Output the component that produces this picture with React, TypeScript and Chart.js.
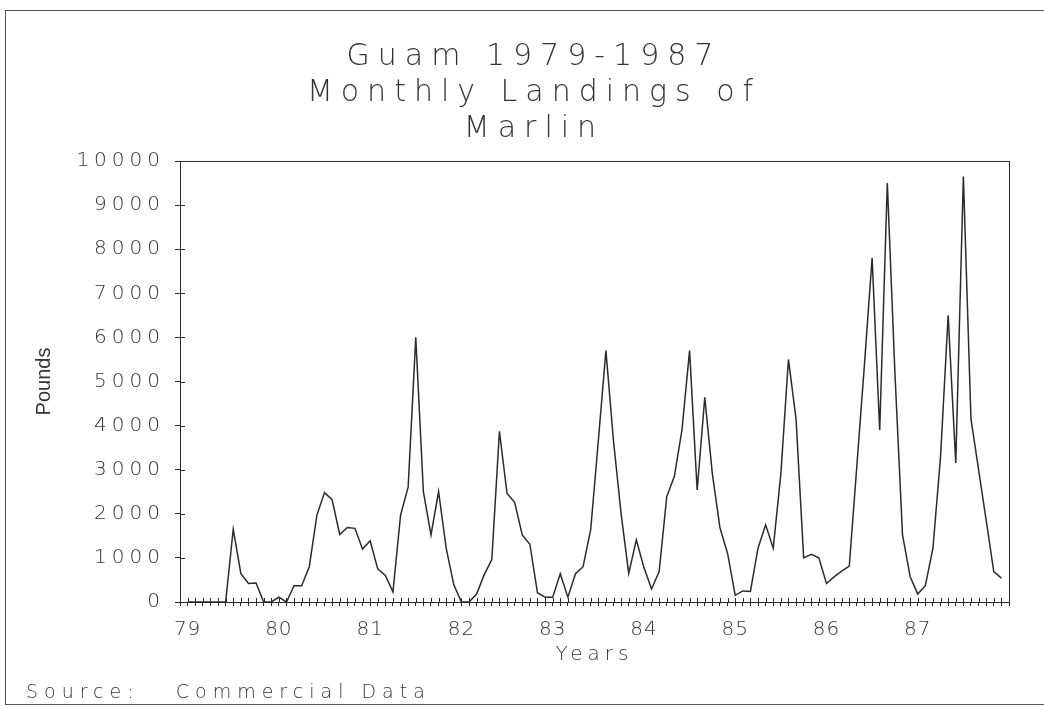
import React, { useEffect, useRef } from 'react';
import { Chart, registerables, LinearScale } from 'chart.js';

// ---- Data (pounds landed per month, Jan 1979 .. Dec 1987) ----
const yearLabels = ['79', '80', '81', '82', '83', '84', '85', '86', '87'];
const pounds1979 = [0, 0, 0, 0, 0, 0, 1650, 650, 420, 430, 0, 0];
const pounds1980 = [110, 0, 370, 370, 800, 1970, 2480, 2320, 1530, 1690, 1670, 1200];
const pounds1981 = [1390, 750, 600, 230, 1970, 2610, 6000, 2500, 1520, 2500, 1220, 390];
const pounds1982 = [0, 0, 180, 620, 960, 3870, 2460, 2260, 1520, 1310, 210, 105];
const pounds1983 = [105, 640, 110, 640, 800, 1640, 3650, 5700, 3650, 2000, 650, 1410];
const pounds1984 = [780, 295, 690, 2390, 2850, 3900, 5700, 2540, 4640, 2900, 1680, 1100];
const pounds1985 = [150, 250, 240, 1220, 1750, 1220, 2900, 5500, 4150, 1000, 1080, 1000];
const pounds1986 = [420, 570, 700, 815, 3100, 5400, 7800, 3900, 9500, 5200, 1520, 580];
const pounds1987 = [180, 370, 1220, 3300, 6500, 3150, 9650, 4150, 3000, 1850, 690, 540];
const monthlyPounds = [
  ...pounds1979, ...pounds1980, ...pounds1981, ...pounds1982, ...pounds1983,
  ...pounds1984, ...pounds1985, ...pounds1986, ...pounds1987,
];
const titleLines = ['Guam 1979-1987', 'Monthly Landings of', 'Marlin'];
const sourceText = 'Source:   Commercial Data';

const INK = '#2b2b2b';
const TEXT = '#333333';
const LABEL_SPACING: Record<string, string> = { x: '1px', y: '5px' };
const TITLE_SPACING: Record<string, string> = { x: '5px', y: '0px' };

class SpacedLinearScale extends LinearScale {
  static id = 'spacedLinear';
  static defaults = LinearScale.defaults;
  drawLabels(chartArea: any) {
    const ctx: any = this.ctx;
    ctx.save();
    ctx.letterSpacing = LABEL_SPACING[this.id] || '0px';
    super.drawLabels(chartArea);
    ctx.restore();
  }
  drawTitle() {
    const ctx: any = this.ctx;
    ctx.save();
    ctx.letterSpacing = TITLE_SPACING[this.id] || '0px';
    // @ts-ignore
    super.drawTitle();
    ctx.restore();
  }
}

Chart.register(...registerables, SpacedLinearScale as any);

const frameAndTicks = {
  id: 'frameAndTicks',
  afterDraw(chart: any) {
    const { ctx, chartArea: a, scales } = chart;
    ctx.save();
    ctx.strokeStyle = INK;
    ctx.lineWidth = 1;
    ctx.strokeRect(a.left + 0.5, a.top + 0.5, a.right - a.left, a.bottom - a.top);
    ctx.beginPath();
    scales.x.ticks.forEach((t: any) => {
      const px = Math.round(scales.x.getPixelForValue(t.value)) + 0.5;
      ctx.moveTo(px, a.bottom);
      ctx.lineTo(px, a.bottom - 4);
    });
    scales.y.ticks.forEach((t: any) => {
      const py = Math.round(scales.y.getPixelForValue(t.value)) + 0.5;
      ctx.moveTo(a.left, py);
      ctx.lineTo(a.left + 5, py);
    });
    ctx.stroke();
    ctx.restore();
  },
};

const tickFont = { family: "'DejaVu Sans', sans-serif", size: 20, weight: '300' as any };

export default function App() {
  const ref = useRef<HTMLCanvasElement>(null);
  useEffect(() => {
    const canvas = ref.current!;
    const points = monthlyPounds.map((v, i) => ({ x: i, y: v }));
    const chart = new Chart(canvas, {
      type: 'line',
      data: {
        datasets: [
          {
            label: 'Marlin',
            data: points,
            borderColor: INK,
            borderWidth: 1.5,
            pointRadius: 0,
            tension: 0,
            fill: false,
          },
        ],
      },
      options: {
        responsive: false,
        animation: false,
        devicePixelRatio: 1,
        layout: { padding: { top: 161, right: 35, bottom: 0, left: 0 } },
        plugins: {
          legend: { display: false },
          tooltip: { enabled: false },
          title: { display: false },
        },
        scales: {
          x: {
            type: 'spacedLinear' as any,
            min: -1,
            max: 108,
            afterFit: (s: any) => { s.height = 709 - 602; },
            grid: { display: true, drawOnChartArea: false, drawTicks: true, tickLength: 4, color: INK, lineWidth: 1 },
            border: { display: true, color: INK, width: 1 },
            ticks: {
              stepSize: 1,
              autoSkip: false,
              maxTicksLimit: 200,
              maxRotation: 0,
              minRotation: 0,
              padding: 12,
              color: TEXT,
              font: tickFont,
              callback: (v: any) => {
                const n = Number(v);
                return n >= 0 && n % 12 === 0 && n / 12 < yearLabels.length ? yearLabels[n / 12] : '';
              },
            },
            title: {
              display: true,
              text: 'Years',
              color: TEXT,
              font: tickFont,
              padding: { top: 0, bottom: 42 },
            },
          },
          y: {
            type: 'spacedLinear' as any,
            min: 0,
            max: 10000,
            afterFit: (s: any) => { s.width = 180; },
            grid: { display: true, drawOnChartArea: false, drawTicks: true, tickLength: 5, color: INK, lineWidth: 1 },
            border: { display: true, color: INK, width: 1 },
            ticks: {
              stepSize: 1000,
              padding: 10,
              color: TEXT,
              font: tickFont,
              callback: (v: any) => String(v),
            },
            title: {
              display: true,
              text: 'Pounds',
              color: TEXT,
              font: { family: "'Liberation Sans Narrow', 'Liberation Sans', sans-serif", size: 20 },
              padding: { top: 32 },
            },
          },
        },
      },
      plugins: [frameAndTicks],
    });
    return () => chart.destroy();
  }, []);

  return (
    <div style={{ position: 'fixed', left: 0, top: 0, width: 1044, height: 709, background: '#fff', overflow: 'hidden' }}>
      <div style={{ position: 'absolute', left: 5, top: 10, width: 1100, height: 695, border: '1px solid #555', boxSizing: 'border-box' }} />
      <canvas ref={ref} width={1044} height={709} style={{ position: 'absolute', left: 0, top: 0, width: 1044, height: 709 }} />
      <div
        style={{
          position: 'absolute', left: 0, top: 36.5, width: 1068, textAlign: 'center',
          fontFamily: "'DejaVu Sans', sans-serif", fontWeight: 300, fontSize: 30, lineHeight: '36px',
          letterSpacing: '8px', color: TEXT,
        }}
      >
        {titleLines.map((t) => (<div key={t}>{t}</div>))}
      </div>
      <div
        style={{
          position: 'absolute', left: 26, top: 679, whiteSpace: 'pre',
          fontFamily: "'DejaVu Sans', sans-serif", fontWeight: 300, fontSize: 19, lineHeight: '24px',
          letterSpacing: '6px', color: TEXT,
        }}
      >
        {sourceText}
      </div>
    </div>
  );
}
